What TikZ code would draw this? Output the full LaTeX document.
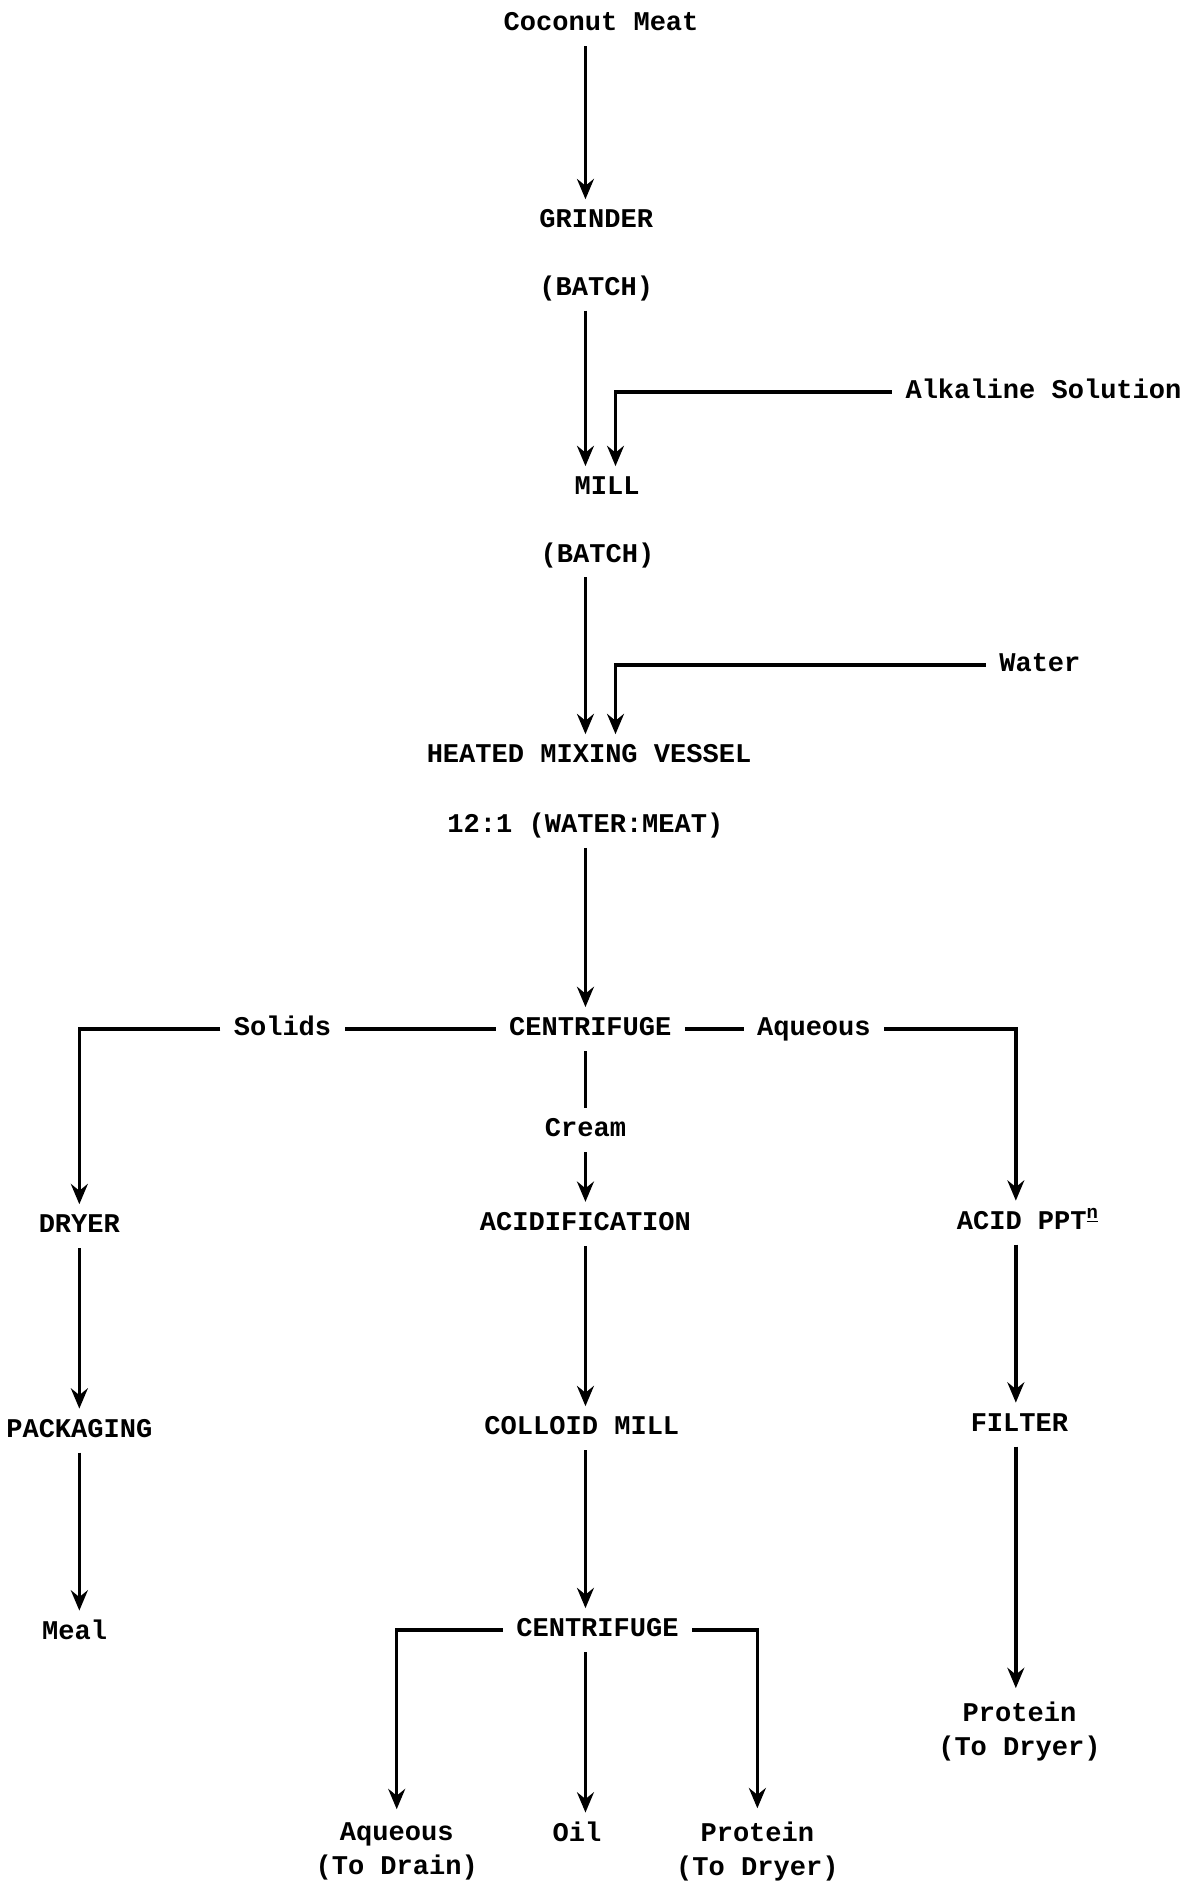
\documentclass[tikz,border=0pt]{standalone}
\usepackage{fontspec}
\setmainfont{Liberation Mono}
\usetikzlibrary{arrows.meta}
\begin{document}
\begin{tikzpicture}[x=.025cm,y=-.025cm,>={Stealth[length=12pt,width=10pt,inset=4pt]},line width=2pt,
  lbl/.style={font=\fontsize{16}{20}\selectfont\bfseries,inner sep=7pt,text height=.9em,text depth=.1em},
  two/.style={font=\fontsize{16}{20}\selectfont\bfseries,inner sep=7pt,align=center}]
  \useasboundingbox (0,0) rectangle (984,1568);
  \coordinate (c1) at (487,0);
  \coordinate (f1) at (512,0);
  \coordinate (cR) at (845,0);
  % upper chain
  \node[lbl] (cm) at (500,20) {Coconut Meat};
  \node[lbl] (grinder) at (496,184) {GRINDER};
  \node[lbl] (batch1) at (496,240) {(BATCH)};
  \node[lbl] (alk) at (868,326) {Alkaline Solution};
  \node[lbl] (mill) at (505,406) {MILL};
  \node[lbl] (batch2) at (497,462) {(BATCH)};
  \node[lbl] (water) at (865,553) {Water};
  \node[lbl] (hmv) at (490,629) {HEATED MIXING VESSEL};
  \node[lbl] (ratio) at (487,687) {12:1 (WATER:MEAT)};
  \draw[->] (cm.south -| c1)--(grinder.north -| c1);
  \draw[->] (batch1.south -| c1)--(mill.north -| c1);
  \draw[->] (alk.west)-|(mill.north -| f1);
  \draw[->] (batch2.south -| c1)--(hmv.north -| c1);
  \draw[->] (water.west)-|(hmv.north -| f1);
  % first centrifuge
  \node[lbl] (cen1) at (491,856) {CENTRIFUGE};
  \node[lbl] (solids) at (235,856) {Solids};
  \node[lbl] (aq1) at (677,856) {Aqueous};
  \node[lbl] (cream) at (487,940) {Cream};
  \node[lbl] (dryer) at (66,1020) {DRYER};
  \node[lbl] (acid) at (487,1018) {ACIDIFICATION};
  \node[lbl] (ppt) at (855,1017) {ACID PPT\textsuperscript{\underline{n}}};
  \draw[->] (ratio.south -| c1)--(cen1.north -| c1);
  \draw (cen1.west)--(solids.east);
  \draw[->] (solids.west)-|(dryer.north);
  \draw (cen1.east)--(aq1.west);
  \draw[->] (aq1.east)-|(ppt.north -| cR);
  \draw (cen1.south -| c1)--(cream.north -| c1);
  \draw[->] (cream.south -| c1)--(acid.north -| c1);
  % lower chains
  \node[lbl] (pack) at (66,1190) {PACKAGING};
  \node[lbl] (colloid) at (484,1188) {COLLOID MILL};
  \node[lbl] (filter) at (848,1185) {FILTER};
  \node[lbl] (meal) at (62,1358) {Meal};
  \node[lbl] (cen2) at (497,1356) {CENTRIFUGE};
  \node[two] (prot1) at (848,1440) {Protein\\(To Dryer)};
  \node[two] (aqd) at (330,1540) {Aqueous\\(To Drain)};
  \node[lbl] (oil) at (480,1526) {Oil};
  \node[two] (prot2) at (630,1540) {Protein\\(To Dryer)};
  \draw[->] (dryer.south)--(pack.north);
  \draw[->] (pack.south)--(meal.north -| pack.south);
  \draw[->] (acid.south -| c1)--(colloid.north -| c1);
  \draw[->] (ppt.south -| cR)--(filter.north -| cR);
  \draw[->] (filter.south -| cR)--(prot1.north -| cR);
  \draw[->] (colloid.south -| c1)--(cen2.north -| c1);
  \draw[->] (cen2.west)-|(aqd.north);
  \draw[->] (cen2.south -| c1)--(oil.north -| c1);
  \draw[->] (cen2.east)-|(prot2.north);
\end{tikzpicture}
\end{document}
